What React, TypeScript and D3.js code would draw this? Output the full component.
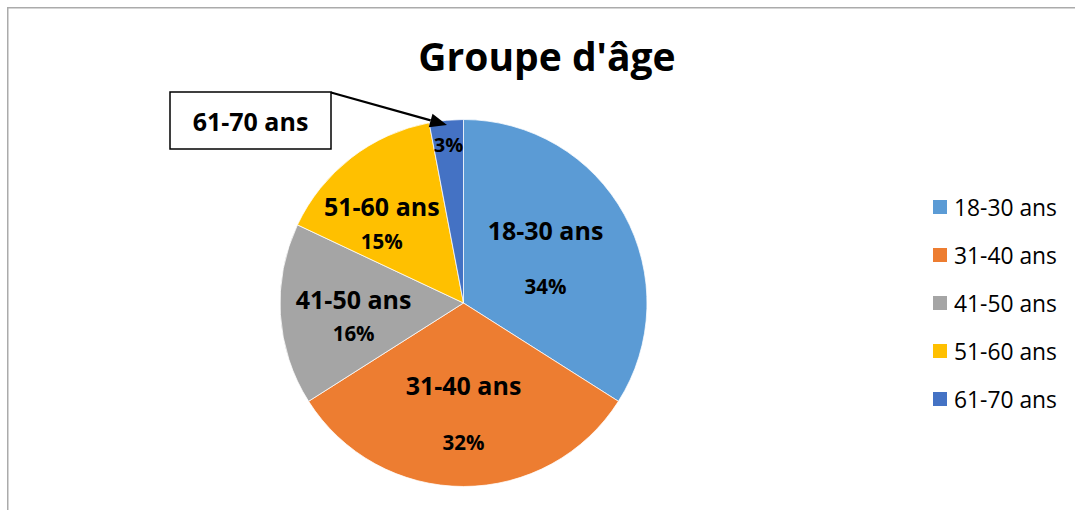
import React from "react";
import * as d3 from "d3";

const categories = ["18-30 ans", "31-40 ans", "41-50 ans", "51-60 ans", "61-70 ans"];
const values = [34, 32, 16, 15, 3];
const colors = ["#5B9BD5", "#ED7D31", "#A5A5A5", "#FFC000", "#4472C4"];
const showNameInside = [true, true, true, true, false];
const title = "Groupe d'âge";
const calloutText = "61-70 ans";

const W = 1075;
const H = 510;
const cx = 463.5;
const cy = 303;
const R = 183.5;

// label layout tweaks (radius fraction, gap between lines, nudges)
const labelK = [0.51, 0.6, 0.6, 0.62, 0.87];
const labelGap = [56, 57, 34, 35, 0];
const labelNudge: [number, number][] = [
  [0, 0],
  [0, 0],
  [0, 6],
  [-12, 10],
  [0, 0],
];

const FONT = "'Open Sans', 'Noto Sans', sans-serif";

export default function App() {
  const total = d3.sum(values);
  const pie = d3
    .pie<number>()
    .sort(null)
    .value((d) => d)(values);
  const arc = d3.arc<d3.PieArcDatum<number>>().innerRadius(0).outerRadius(R);

  const legendY = d3
    .scalePoint<string>()
    .domain(categories)
    .range([207, 399]);

  // callout arrow
  const ax1 = 331, ay1 = 92.5, ax2 = 447, ay2 = 125;
  const ang = Math.atan2(ay2 - ay1, ax2 - ax1);
  const headLen = 17, headHalf = 7;
  const bx = ax2 - headLen * Math.cos(ang);
  const by = ay2 - headLen * Math.sin(ang);
  const px = -Math.sin(ang) * headHalf;
  const py = Math.cos(ang) * headHalf;
  const head = `M${ax2},${ay2} L${bx + px},${by + py} L${bx - px},${by - py} Z`;

  return (
    <svg
      width={W}
      height={H}
      style={{ position: "absolute", left: 0, top: 0, background: "#fff" }}
    >
      <rect x={0} y={0} width={W} height={H} fill="#fff" />
      <rect
        x={7.75}
        y={7.75}
        width={W + 20}
        height={H + 20}
        fill="none"
        stroke="#ABABAB"
        strokeWidth={1.5}
      />
      <text
        x={547}
        y={71}
        textAnchor="middle"
        fontFamily={FONT}
        fontWeight="bold"
        fontSize={39}
        fill="#000"
      >
        {title}
      </text>
      <g transform={`translate(${cx},${cy})`}>
        {pie.map((p, i) => (
          <path
            key={i}
            d={arc(p) as string}
            fill={colors[i]}
            stroke="#fff"
            strokeWidth={0.75}
          />
        ))}
        {pie.map((p, i) => {
          const lArc = d3
            .arc<d3.PieArcDatum<number>>()
            .innerRadius(R * labelK[i])
            .outerRadius(R * labelK[i]);
          const [x0, y0] = lArc.centroid(p);
          const x = x0 + labelNudge[i][0];
          const y = y0 + labelNudge[i][1];
          const pct = Math.round((values[i] / total) * 100) + "%";
          if (!showNameInside[i]) {
            return (
              <text
                key={i}
                x={x}
                y={y}
                textAnchor="middle"
                dominantBaseline="central"
                fontFamily={FONT}
                fontWeight="bold"
                fontSize={20}
              >
                {pct}
              </text>
            );
          }
          return (
            <g key={i}>
              <text
                x={x}
                y={y - labelGap[i] / 2}
                textAnchor="middle"
                dominantBaseline="central"
                fontFamily={FONT}
                fontWeight="bold"
                fontSize={25}
              >
                {categories[i]}
              </text>
              <text
                x={x}
                y={y + labelGap[i] / 2}
                textAnchor="middle"
                dominantBaseline="central"
                fontFamily={FONT}
                fontWeight="bold"
                fontSize={20.5}
              >
                {pct}
              </text>
            </g>
          );
        })}
      </g>
      {/* callout */}
      <line
        x1={ax1}
        y1={ay1}
        x2={bx}
        y2={by}
        stroke="#000"
        strokeWidth={2.25}
      />
      <path d={head} fill="#000" />
      <rect
        x={170}
        y={92}
        width={161}
        height={57}
        fill="#fff"
        stroke="#000"
        strokeWidth={1.5}
      />
      <text
        x={250.5}
        y={121}
        textAnchor="middle"
        dominantBaseline="central"
        fontFamily={FONT}
        fontWeight="bold"
        fontSize={25}
      >
        {calloutText}
      </text>
      {/* legend */}
      {categories.map((c, i) => {
        const y = legendY(c) as number;
        return (
          <g key={c}>
            <rect x={933} y={y - 7} width={14} height={14} fill={colors[i]} />
            <text
              x={954}
              y={y}
              dominantBaseline="central"
              fontFamily={FONT}
              fontSize={22.8}
              fill="#000"
            >
              {c}
            </text>
          </g>
        );
      })}
    </svg>
  );
}
